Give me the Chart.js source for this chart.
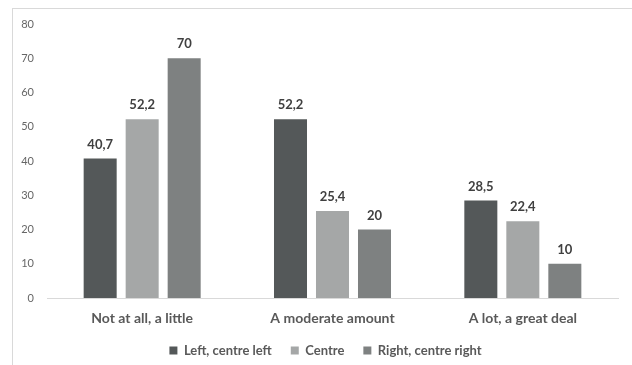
<!DOCTYPE html>
<html>
<head>
<meta charset="utf-8">
<script src="https://cdn.jsdelivr.net/npm/chart.js@4/dist/chart.umd.min.js"></script>
<style>
  html, body { margin: 0; padding: 0; background: #fff; }
  #frame {
    position: absolute; left: 12px; top: 8px;
    width: 620px; height: 357px;
    border-left: 1px solid #d9d9d9; border-top: 1px solid #d9d9d9;
  }
  #chart { display: block; }
</style>
</head>
<body>
<div id="frame"><canvas id="chart" width="619" height="356"></canvas></div>
<script>
// Political position vs. amount of trust (%)
const categories = ['Not at all, a little', 'A moderate amount', 'A lot, a great deal'];
const seriesNames = ['Left, centre left', 'Centre', 'Right, centre right'];
const leftValues = [40.7, 52.2, 28.5];
const centreValues = [52.2, 25.4, 22.4];
const rightValues = [70, 20, 10];
const yTicks = [0, 10, 20, 30, 40, 50, 60, 70, 80];

const colors = ['#545859', '#a5a7a7', '#7e8181'];
const FONT = 'Lato, "Open Sans", sans-serif';

// Writes each bar's value above it, with a decimal comma
const valueLabels = {
  id: 'valueLabels',
  afterDatasetsDraw(chart) {
    const ctx = chart.ctx;
    ctx.save();
    ctx.font = 'bold 13px ' + FONT;
    ctx.fillStyle = '#404040';
    ctx.textAlign = 'center';
    ctx.textBaseline = 'middle';
    chart.data.datasets.forEach((ds, i) => {
      chart.getDatasetMeta(i).data.forEach((bar, j) => {
        ctx.fillText(String(ds.data[j]).replace('.', ','), bar.x, bar.y - 14);
      });
    });
    ctx.restore();
  }
};

// Moves the legend row up under the category labels and a little to the right
const legendShift = {
  id: 'legendShift',
  afterLayout(chart) {
    const l = chart.legend;
    if (l) {
      l.left += 10; l.right += 10;
      l.top -= 5; l.bottom -= 5;
    }
  }
};

new Chart(document.getElementById('chart'), {
  type: 'bar',
  data: {
    labels: categories,
    datasets: [
      { label: seriesNames[0], data: leftValues, backgroundColor: colors[0] },
      { label: seriesNames[1], data: centreValues, backgroundColor: colors[1] },
      { label: seriesNames[2], data: rightValues, backgroundColor: colors[2] }
    ]
  },
  options: {
    responsive: false,
    animation: false,
    events: [],
    categoryPercentage: 0.662,
    barPercentage: 0.786,
    layout: { padding: { top: 15, right: 14, bottom: -7, left: 0 } },
    scales: {
      x: {
        grid: { display: false, drawTicks: false },
        border: { display: true, color: '#d9d9d9', width: 1 },
        ticks: {
          padding: 12,
          color: '#595959',
          font: { family: FONT, size: 14, weight: 'bold' }
        },
        afterFit(scale) { scale.height = 32; }
      },
      y: {
        min: 0,
        max: 80,
        grid: { display: false, drawTicks: false },
        border: { display: false },
        afterBuildTicks(scale) { scale.ticks = yTicks.map(v => ({ value: v })); },
        ticks: {
          padding: 13,
          color: '#666666',
          font: { family: FONT, size: 11 }
        },
        afterFit(scale) {
          scale.width = 34;
          scale.paddingTop = 0;
          scale.paddingBottom = 0;
        }
      }
    },
    plugins: {
      legend: {
        position: 'bottom',
        labels: {
          boxWidth: 8,
          boxHeight: 8,
          padding: 19,
          color: '#595959',
          font: { family: FONT, size: 13, weight: 'bold' }
        }
      },
      tooltip: { enabled: false }
    }
  },
  plugins: [valueLabels, legendShift]
});
</script>
</body>
</html>
